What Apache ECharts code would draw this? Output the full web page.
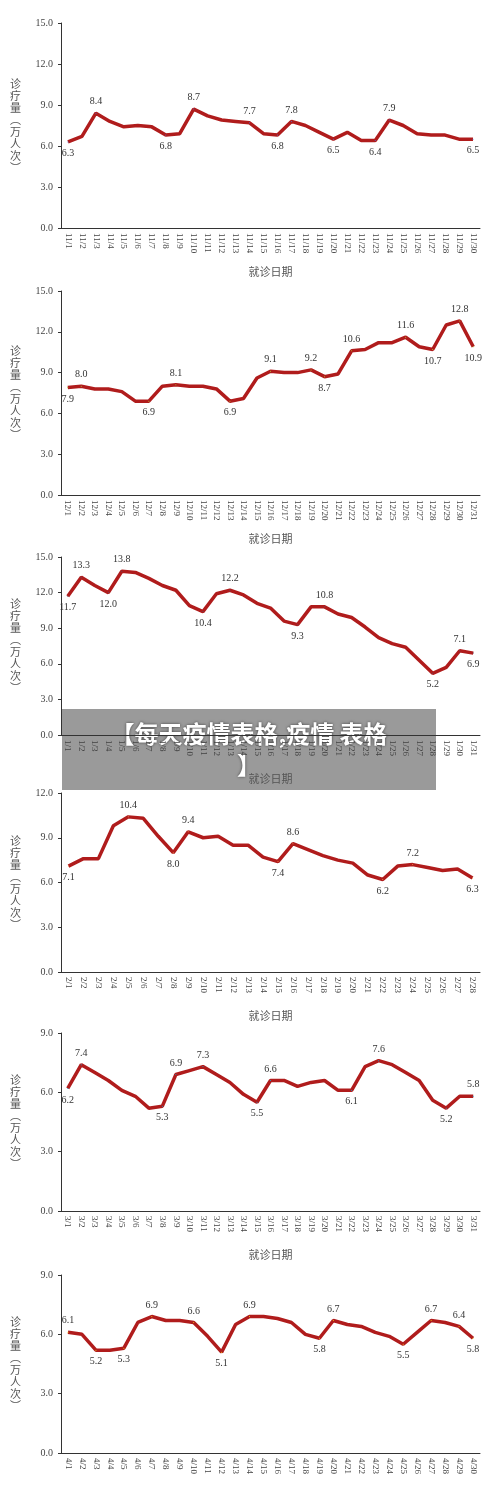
<!DOCTYPE html><html><head><meta charset="utf-8"><script src="https://cdn.jsdelivr.net/npm/echarts@6/dist/echarts.min.js"></script></head><body style="margin:0;background:#fff"><div id="c" style="width:500px;height:1501px"></div><script>
const novVals=[6.3,6.7,8.4,7.8,7.4,7.5,7.4,6.8,6.9,8.7,8.2,7.9,7.8,7.7,6.9,6.8,7.8,7.5,7.0,6.5,7.0,6.4,6.4,7.9,7.5,6.9,6.8,6.8,6.5,6.5];
const decVals=[7.9,8.0,7.8,7.8,7.6,6.9,6.9,8.0,8.1,8.0,8.0,7.8,6.9,7.1,8.6,9.1,9.0,9.0,9.2,8.7,8.9,10.6,10.7,11.2,11.2,11.6,10.9,10.7,12.5,12.8,10.9];
const janVals=[11.7,13.3,12.6,12.0,13.8,13.7,13.2,12.6,12.2,10.9,10.4,11.9,12.2,11.8,11.1,10.7,9.6,9.3,10.8,10.8,10.2,9.9,9.1,8.2,7.7,7.4,6.3,5.2,5.7,7.1,6.9];
const febVals=[7.1,7.6,7.6,9.8,10.4,10.3,9.1,8.0,9.4,9.0,9.1,8.5,8.5,7.7,7.4,8.6,8.2,7.8,7.5,7.3,6.5,6.2,7.1,7.2,7.0,6.8,6.9,6.3];
const marVals=[6.2,7.4,7.0,6.6,6.1,5.8,5.2,5.3,6.9,7.1,7.3,6.9,6.5,5.9,5.5,6.6,6.6,6.3,6.5,6.6,6.1,6.1,7.3,7.6,7.4,7.0,6.6,5.6,5.2,5.8,5.8];
const aprVals=[6.1,6.0,5.2,5.2,5.3,6.6,6.9,6.7,6.7,6.6,5.9,5.1,6.5,6.9,6.9,6.8,6.6,6.0,5.8,6.7,6.5,6.4,6.1,5.9,5.5,6.1,6.7,6.6,6.4,5.8];
// labelled days: day number -> position
const novLab={1:'b',3:'t',8:'b',10:'t',14:'t',16:'b',17:'t',20:'b',23:'b',24:'t',30:'b'};
const decLab={1:'b',2:'t',7:'b',9:'t',13:'b',16:'t',19:'t',20:'b',22:'t',26:'t',28:'b',30:'t',31:'b'};
const janLab={1:'b',2:'t',4:'b',5:'t',11:'b',13:'t',18:'b',20:'t',28:'b',30:'t',31:'b'};
const febLab={1:'b',5:'t',8:'b',9:'t',15:'b',16:'t',22:'b',24:'t',28:'b'};
const marLab={1:'b',2:'t',8:'b',9:'t',11:'t',15:'b',16:'t',22:'b',24:'t',29:'b',31:'t'};
const aprLab={1:'t',3:'b',5:'b',7:'t',10:'t',12:'b',14:'t',19:'b',20:'t',25:'b',27:'t',29:'t',30:'b'};
const yMaxes=[15,15,15,12,9,9];
const months=[11,12,1,2,3,4];
const allVals=[novVals,decVals,janVals,febVals,marVals,aprVals];
const allLabs=[novLab,decLab,janLab,febLab,marLab,aprLab];
const tops=[23,291,557,793,1033,1275], heights=[205,204,178,179,178,178];
const serif='"Liberation Serif","Noto Serif CJK SC",serif';
const grid=[],xAxis=[],yAxis=[],series=[];
allVals.forEach((vals,i)=>{
  grid.push({left:61,right:20,top:tops[i],height:heights[i]});
  xAxis.push({type:'category',gridIndex:i,data:vals.map((v,k)=>months[i]+'/'+(k+1)),
    boundaryGap:true,axisLine:{lineStyle:{color:'#333'}},axisTick:{length:4,lineStyle:{color:'#333'}},
    axisLabel:{interval:0,rotate:-90,fontSize:9,color:'#444',fontFamily:serif,margin:5},
    name:i===5?'':'就诊日期',nameLocation:'middle',nameGap:38,nameTextStyle:{fontSize:11,color:'#555',fontFamily:'"Noto Sans CJK SC"'}});
  yAxis.push({type:'value',gridIndex:i,min:0,max:yMaxes[i],interval:3,
    axisLine:{show:true,lineStyle:{color:'#333'}},axisTick:{show:true,length:3},splitLine:{show:false},
    axisLabel:{formatter:v=>v.toFixed(1),fontSize:10,color:'#444',fontFamily:serif},
    name:'诊\n疗\n量\n︵\n万\n人\n次\n︶',nameLocation:'middle',nameRotate:0,nameGap:40,
    nameTextStyle:{fontSize:11,lineHeight:12,color:'#555',fontFamily:'"Noto Sans CJK SC"'}});
  const lab=allLabs[i];
  series.push({type:'line',xAxisIndex:i,yAxisIndex:i,symbol:'none',
    lineStyle:{color:'#b01c1c',width:3.5},
    data:vals.map((v,k)=>{const p=lab[k+1];return p?{value:v,symbol:'circle',symbolSize:1,
      label:{show:true,position:p==='t'?'top':'bottom',distance:6,formatter:x=>x.value.toFixed(1),fontSize:10,color:'#333',fontFamily:serif}}:v;})});
});
const chart=echarts.init(document.getElementById('c'));
chart.setOption({animation:false,grid,xAxis,yAxis,series,
  graphic:[{type:'rect',shape:{x:62,y:709,width:374,height:81},style:{fill:'rgba(120,120,120,0.75)'}},
   {type:'text',x:249,y:718,style:{text:'【每天疫情表格,疫情 表格\n】',fill:'#fff',font:'bold 24px "Noto Sans CJK SC"',lineHeight:31,align:'center',textShadowColor:'rgba(0,0,0,0.6)',textShadowBlur:3}}]});
</script></body></html>
